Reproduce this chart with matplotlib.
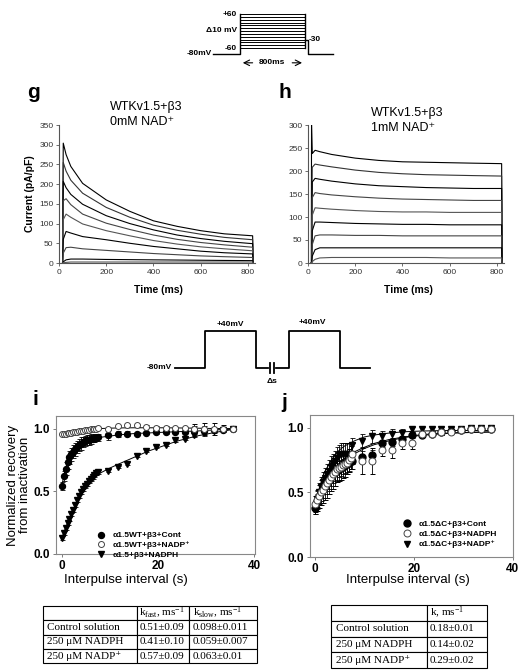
import matplotlib
matplotlib.use('Agg')
import matplotlib.pyplot as plt
from matplotlib.lines import Line2D

plt.rcParams['font.family'] = ['Liberation Sans', 'DejaVu Sans']
plt.rcParams['mathtext.fontset'] = 'custom'
plt.rcParams['mathtext.rm'] = 'Liberation Serif'
plt.rcParams['mathtext.it'] = 'Liberation Serif:italic'
plt.rcParams['mathtext.bf'] = 'Liberation Serif:bold'

# ---------------- data ----------------
# pulse protocol (top): holding, 13 test steps, tail
hold_mv = -80
step_mv = [-60, -50, -40, -30, -20, -10, 0, 10, 20, 30, 40, 50, 60]
tail_mv = -30
pulse_ms = 800

# recovery protocol (middle): two +40 mV pulses separated by interval
p1_ms = [0, 500]
p2_ms = [830, 1330]
pulse_mv = 40

# panel g: WTKv1.5+b3, 0 mM NAD+
g_time = [15, 18, 30, 50, 100, 200, 300, 400, 500, 600, 700, 820, 822]
g_traces = [
    [0, 304, 275, 245, 202, 160, 131, 107, 93, 82, 74, 69, 0],
    [0, 255, 233, 210, 177, 141, 116, 96, 83, 73, 65, 59, 0],
    [0, 207, 191, 174, 149, 120, 100, 84, 71, 62, 55, 49, 0],
    [0, 158, 163, 148, 124, 101, 85, 71, 60, 52, 46, 40, 0],
    [0, 110, 124, 116, 99, 82, 69, 57, 48, 41, 36, 31, 0],
    [0, 60, 80, 76, 67, 59, 50, 42, 36, 30, 26, 23, 0],
    [0, 25, 39, 40, 36, 32, 28, 24, 21, 18, 16, 14, 0],
    [0, 3, 8, 10, 10, 9, 8.5, 8, 7.5, 7, 6.5, 6, 0],
    [0, 0.5, 1.5, 2.5, 2.5, 2.5, 2.5, 2.5, 2.5, 2.5, 2.5, 2.5, 0],
]

# panel h: WTKv1.5+b3, 1 mM NAD+
h_time = [14, 15, 18, 30, 50, 100, 200, 300, 400, 500, 600, 700, 820, 822]
h_traces = [
    [0, 300, 238, 245, 242, 236, 228, 223, 220, 219, 218, 217, 216, 0],
    [0, 0, 208, 215, 213, 209, 202, 197, 194, 192, 191, 190, 189, 0],
    [0, 0, 176, 184, 182, 178, 172, 168, 166, 164, 163, 162, 162, 0],
    [0, 0, 142, 153, 151, 148, 144, 141, 139, 138, 137, 136, 136, 0],
    [0, 0, 104, 120, 119, 117, 114, 112, 111, 111, 110, 110, 110, 0],
    [0, 0, 70, 89, 89, 88, 86, 85, 84, 84, 83, 83, 83, 0],
    [0, 0, 40, 59, 61, 61, 60, 60, 59, 59, 59, 59, 59, 0],
    [0, 0, 15, 29, 33, 33, 33, 33, 33, 33, 33, 33, 33, 0],
    [0, 0, 3, 8, 11, 12, 12, 12, 12, 12, 11, 11, 11, 0],
]

# panels i / j: recovery from inactivation
interval_s = [0, 0.4, 0.8, 1.2, 1.6, 2.0, 2.4, 2.8, 3.2, 3.6, 4.0, 4.4, 4.8, 5.2,
              5.6, 6.0, 6.4, 6.8, 7.2, 7.6, 9.6, 11.6, 13.6, 15.6, 17.6, 19.6,
              21.6, 23.6, 25.6, 27.6, 29.6, 31.6, 33.6, 35.6]

i_cont = [0.54, 0.62, 0.68, 0.73, 0.77, 0.795, 0.815, 0.835, 0.853, 0.868, 0.88,
          0.89, 0.9, 0.905, 0.91, 0.915, 0.92, 0.924, 0.928, 0.93,
          0.95, 0.955, 0.96, 0.96, 0.966, 0.97, 0.97, 0.975, 0.975, 0.98, 0.98,
          0.985, 0.99, 0.995]
i_cont_err = [0.03, 0.04, 0.05, 0.05, 0.05, 0.05, 0.05, 0.05, 0.05, 0.05, 0.05,
              0.04, 0.04, 0.04, 0.04, 0.04, 0.03, 0.03, 0.03, 0.03,
              0.04, 0.025, 0.02, 0.015, 0.01, 0.01, 0.01, 0.01, 0.01, 0.04, 0.04,
              0.02, 0.01, 0.01]
i_nadpp = [0.955, 0.958, 0.96, 0.962, 0.965, 0.967, 0.97, 0.972, 0.975, 0.977, 0.98,
           0.982, 0.985, 0.987, 0.99, 0.993, 0.995, 0.998, 1.0, 1.005,
           0.997, 1.02, 1.03, 1.025, 1.015, 1.008, 1.008, 1.005, 1.005, 1.0, 0.995,
           0.995, 1.0, 1.0]
i_nadpp_err = [0.01, 0.01, 0.01, 0.01, 0.01, 0.01, 0.01, 0.01, 0.01, 0.01, 0.01,
               0.01, 0.01, 0.01, 0.01, 0.01, 0.01, 0.01, 0.01, 0.01,
               0.01, 0.01, 0.01, 0.01, 0.01, 0.01, 0.01, 0.01, 0.01, 0.04, 0.05,
               0.05, 0.03, 0.01]
i_nadph = [0.125, 0.17, 0.21, 0.245, 0.28, 0.315, 0.35, 0.39, 0.43, 0.465, 0.495,
           0.52, 0.54, 0.56, 0.58, 0.6, 0.615, 0.63, 0.645, 0.655,
           0.665, 0.695, 0.72, 0.785, 0.82, 0.855, 0.87, 0.905, 0.92, 0.95, 0.97,
           0.98, 0.99, 0.995]
i_nadph_err = [0.015, 0.015, 0.015, 0.015, 0.015, 0.015, 0.015, 0.015, 0.015, 0.015,
               0.015, 0.015, 0.015, 0.015, 0.015, 0.015, 0.015, 0.015, 0.015, 0.015,
               0.01, 0.01, 0.01, 0.01, 0.01, 0.01, 0.01, 0.01, 0.015, 0.02, 0.015,
               0.01, 0.01, 0.01]

j_cont = [0.38, 0.43, 0.47, 0.5, 0.53, 0.56, 0.58, 0.6, 0.62, 0.64, 0.66, 0.67,
          0.68, 0.69, 0.7, 0.71, 0.72, 0.73, 0.74, 0.745,
          0.775, 0.79, 0.88, 0.89, 0.915, 0.945, 0.948, 0.956, 0.968, 0.974, 0.987,
          0.99, 0.995, 0.995]
j_cont_err = [0.05, 0.06, 0.06, 0.07, 0.07, 0.07, 0.07, 0.07, 0.07, 0.07, 0.07,
              0.07, 0.06, 0.06, 0.06, 0.06, 0.06, 0.06, 0.06, 0.06,
              0.05, 0.04, 0.03, 0.03, 0.02, 0.02, 0.02, 0.02, 0.02, 0.01, 0.01,
              0.01, 0.01, 0.01]
j_nadph = [0.41, 0.44, 0.47, 0.5, 0.52, 0.55, 0.57, 0.6, 0.62, 0.64, 0.66, 0.68,
           0.69, 0.7, 0.71, 0.72, 0.73, 0.75, 0.77, 0.8,
           0.745, 0.745, 0.83, 0.83, 0.88, 0.885, 0.95, 0.955, 0.965, 0.97, 0.985,
           0.99, 0.995, 0.995]
j_nadph_err = [0.06, 0.08, 0.09, 0.1, 0.1, 0.11, 0.11, 0.11, 0.11, 0.11, 0.11,
               0.1, 0.1, 0.1, 0.1, 0.1, 0.09, 0.09, 0.09, 0.08,
               0.1, 0.1, 0.05, 0.06, 0.04, 0.05, 0.02, 0.02, 0.02, 0.01, 0.01,
               0.01, 0.01, 0.01]
j_nadpp = [0.385, 0.45, 0.5, 0.54, 0.58, 0.61, 0.64, 0.67, 0.7, 0.72, 0.74, 0.77,
           0.79, 0.8, 0.8, 0.8, 0.8, 0.8, 0.8, 0.87,
           0.9, 0.935, 0.935, 0.95, 0.96, 0.99, 0.99, 0.99, 0.99, 0.99, 0.99,
           1.0, 1.0, 1.0]
j_nadpp_err = [0.05, 0.06, 0.07, 0.08, 0.08, 0.08, 0.08, 0.08, 0.08, 0.08, 0.08,
               0.08, 0.08, 0.08, 0.08, 0.08, 0.08, 0.08, 0.08, 0.05,
               0.05, 0.05, 0.04, 0.04, 0.03, 0.02, 0.02, 0.02, 0.02, 0.02, 0.01,
               0.01, 0.01, 0.01]

# fitted curves
fit_s = [0, 0.5, 1, 1.5, 2, 3, 4, 5, 6, 8, 10, 12, 15, 18, 21, 24, 28, 32, 36]
i_cont_fit = [0.54, 0.64, 0.71, 0.76, 0.795, 0.85, 0.88, 0.9, 0.91, 0.93, 0.94,
              0.95, 0.96, 0.965, 0.97, 0.975, 0.98, 0.99, 0.995]
i_nadpp_fit = [0.96, 0.965, 0.97, 0.974, 0.978, 0.985, 0.99, 0.994, 0.997, 1.0,
               1.003, 1.005, 1.006, 1.006, 1.006, 1.005, 1.003, 1.0, 1.0]
i_nadph_fit = [0.125, 0.18, 0.23, 0.28, 0.32, 0.4, 0.47, 0.53, 0.58, 0.645, 0.685,
               0.72, 0.77, 0.82, 0.86, 0.9, 0.94, 0.97, 0.995]
j_cont_fit = [0.38, 0.45, 0.5, 0.54, 0.57, 0.63, 0.68, 0.72, 0.75, 0.8, 0.84,
              0.87, 0.9, 0.925, 0.94, 0.95, 0.96, 0.965, 0.97]
j_nadph_fit = [0.4, 0.46, 0.51, 0.55, 0.58, 0.64, 0.69, 0.73, 0.765, 0.815, 0.85,
               0.88, 0.91, 0.93, 0.945, 0.955, 0.962, 0.966, 0.968]
j_nadpp_fit = [0.38, 0.48, 0.55, 0.61, 0.66, 0.73, 0.79, 0.83, 0.86, 0.9, 0.93,
               0.945, 0.96, 0.97, 0.975, 0.978, 0.98, 0.98, 0.98]

i_labels = ['\u03b11.5WT+\u03b23+Cont', '\u03b11.5WT+\u03b23+NADP\u207a', '\u03b11.5+\u03b23+NADPH']
j_labels = ['\u03b11.5\u0394C+\u03b23+Cont', '\u03b11.5\u0394C+\u03b23+NADPH', '\u03b11.5\u0394C+\u03b23+NADP\u207a']

table_i_header = ['', r'k$_{\mathrm{fast}}$, ms$^{\mathrm{-1}}$', r'k$_{\mathrm{slow}}$, ms$^{\mathrm{-1}}$']
table_i_rows = [['Control solution', '0.51\u00b10.09', '0.098\u00b10.011'],
                ['250 \u03bcM NADPH', '0.41\u00b10.10', '0.059\u00b10.007'],
                ['250 \u03bcM NADP\u207a', '0.57\u00b10.09', '0.063\u00b10.01']]
table_j_header = ['', r'k, ms$^{\mathrm{-1}}$']
table_j_rows = [['Control solution', '0.18\u00b10.01'],
                ['250 \u03bcM NADPH', '0.14\u00b10.02'],
                ['250 \u03bcM NADP\u207a', '0.29\u00b10.02']]

# ---------------- figure ----------------
W, H = 523, 671
fig = plt.figure(figsize=(W / 100, H / 100), dpi=100)


def px_axes(x0, y0, x1, y1):
    # axes from pixel box (top-left origin)
    return fig.add_axes([x0 / W, 1 - y1 / H, (x1 - x0) / W, (y1 - y0) / H])


def px_text(x, y, s, **kw):
    fig.text(x / W, 1 - y / H, s, **kw)


# top protocol
ax = px_axes(200, 5, 345, 75)
ax.set_xlim(-494, 1296)
ax.set_ylim(-155, 92)
ax.axis('off')
ax.plot([-330, 0, 0], [hold_mv, hold_mv, max(step_mv)], color='k', lw=1)
for v in step_mv:
    ax.plot([0, pulse_ms], [v, v], color='k', lw=0.7)
ax.plot([pulse_ms, pulse_ms], [max(step_mv), min(step_mv)], color='k', lw=1)
ax.plot([pulse_ms, pulse_ms + 40, pulse_ms + 40, pulse_ms + 350],
        [tail_mv, tail_mv, hold_mv, hold_mv], color='k', lw=1)
kw = dict(fontsize=6, fontweight='bold', va='center')
ax.text(-40, 60, '+60', ha='right', **kw)
ax.text(-40, 2, '\u039410 mV', ha='right', **kw)
ax.text(-40, -60, '-60', ha='right', **kw)
ax.text(-345, hold_mv, '-80mV', ha='right', **kw)
ax.text(pulse_ms + 50, tail_mv, '-30', ha='left', **kw)
ax.annotate('', xy=(0, -112), xytext=(190, -112),
            arrowprops=dict(arrowstyle='->', lw=0.8, color='k'))
ax.annotate('', xy=(pulse_ms, -112), xytext=(pulse_ms - 190, -112),
            arrowprops=dict(arrowstyle='->', lw=0.8, color='k'))
ax.text(pulse_ms / 2, -112, '800ms', ha='center', **kw)

# panel g
ax_g = px_axes(59, 125, 255, 263)
cols = ['k', '#333333', 'k', '#444444', '#555555', 'k', '#444444', 'k', '#555555']
for tr, c in zip(g_traces, cols):
    ax_g.plot(g_time, tr, color=c, lw=0.8)
ax_g.set_xlim(0, 830)
ax_g.set_ylim(0, 350)
ax_g.set_yticks(range(0, 351, 50))
ax_g.set_xticks(range(0, 801, 200))

# panel h
ax_h = px_axes(308, 125, 504, 263)
for tr, c in zip(h_traces, cols):
    ax_h.plot(h_time, tr, color=c, lw=0.8)
ax_h.set_xlim(0, 830)
ax_h.set_ylim(0, 300)
ax_h.set_yticks(range(0, 301, 50))
ax_h.set_xticks(range(0, 801, 200))

for a in (ax_g, ax_h):
    for s in ('top', 'right'):
        a.spines[s].set_visible(False)
    for s in ('left', 'bottom'):
        a.spines[s].set_color('#555555')
        a.spines[s].set_linewidth(0.8)
    a.tick_params(labelsize=6, length=2, width=0.6, colors='#555555', labelcolor='#333333', pad=2)

px_text(30, 194, 'Current (pA/pF)', rotation=90, ha='center', va='center', fontsize=7.5, fontweight='bold')
px_text(158, 290, 'Time (ms)', ha='center', va='center', fontsize=7.5, fontweight='bold')
px_text(408, 290, 'Time (ms)', ha='center', va='center', fontsize=7.5, fontweight='bold')
px_text(110, 107, 'WTKv1.5+\u03b23', ha='left', va='center', fontsize=9)
px_text(110, 122, '0mM NAD\u207a', ha='left', va='center', fontsize=9)
px_text(371, 113, 'WTKv1.5+\u03b23', ha='left', va='center', fontsize=9)
px_text(371, 128, '1mM NAD\u207a', ha='left', va='center', fontsize=9)
px_text(27, 98, 'g', ha='left', va='baseline', fontsize=15, fontweight='bold')
px_text(279, 98, 'h', ha='left', va='baseline', fontsize=15, fontweight='bold')

# middle protocol
ax = px_axes(140, 315, 380, 390)
ax.set_xlim(-641, 1726)
ax.set_ylim(-153, 92)
ax.axis('off')
ax.plot([-300, p1_ms[0], p1_ms[0], p1_ms[1], p1_ms[1], 620],
        [hold_mv, hold_mv, pulse_mv, pulse_mv, hold_mv, hold_mv], color='k', lw=1.3)
ax.plot([640, 640], [hold_mv - 16, hold_mv + 16], color='k', lw=1.3)
ax.plot([680, 680], [hold_mv - 16, hold_mv + 16], color='k', lw=1.3)
ax.plot([700, p2_ms[0], p2_ms[0], p2_ms[1], p2_ms[1], 1630],
        [hold_mv, hold_mv, pulse_mv, pulse_mv, hold_mv, hold_mv], color='k', lw=1.3)
kw = dict(fontsize=6, fontweight='bold', va='center')
ax.text(sum(p1_ms) / 2, 60, '+40mV', ha='center', **kw)
ax.text(sum(p2_ms) / 2 - 20, 66, '+40mV', ha='center', **kw)
ax.text(-330, hold_mv, '-80mV', ha='right', **kw)
ax.text(660, -125, '\u0394s', ha='center', **kw)

# panels i and j
mk = dict(capsize=1.8, elinewidth=0.6, capthick=0.6, ecolor='k', linestyle='none')


def recovery(a, cont, cont_e, s2, s2_e, s3, s3_e, f1, f2, f3, ms):
    a.plot(fit_s, f1, color='k', lw=0.7)
    a.plot(fit_s, f2, color='k', lw=0.7)
    a.plot(fit_s, f3, color='k', lw=0.7)
    a.errorbar(interval_s, s3, yerr=s3_e, fmt='v', ms=ms, mfc='k', mec='k', **mk)
    a.errorbar(interval_s, cont, yerr=cont_e, fmt='o', ms=ms, mfc='k', mec='k', **mk)
    a.errorbar(interval_s, s2, yerr=s2_e, fmt='o', ms=ms, mfc='white', mec='#444444',
               mew=0.7, **mk)
    for s in a.spines.values():
        s.set_color('#888888')
        s.set_linewidth(0.8)
    a.set_yticks([0, 0.5, 1.0])
    a.set_yticklabels(['0.0', '0.5', '1.0'])
    a.set_xticks([0, 20, 40])
    a.tick_params(labelsize=8.5, length=2.5, width=0.6, colors='#666666', labelcolor='k', pad=2)
    for lab in a.get_xticklabels() + a.get_yticklabels():
        lab.set_fontweight('bold')


ax_i = px_axes(56, 416, 255, 554)
recovery(ax_i, i_cont, i_cont_err, i_nadpp, i_nadpp_err, i_nadph, i_nadph_err,
         i_cont_fit, i_nadpp_fit, i_nadph_fit, 4.3)
ax_i.set_xlim(-1.2, 40.2)
ax_i.set_ylim(0, 1.1)

ax_j = px_axes(310, 415, 513, 557)
recovery(ax_j, j_cont, j_cont_err, j_nadph, j_nadph_err, j_nadpp, j_nadpp_err,
         j_cont_fit, j_nadph_fit, j_nadpp_fit, 5)
ax_j.set_xlim(-1.0, 40.1)
ax_j.set_ylim(0, 1.1)


def handles(ms):
    return [Line2D([], [], ls='none', marker='o', ms=ms, mfc='k', mec='k'),
            Line2D([], [], ls='none', marker='o', ms=ms, mfc='white', mec='#444444', mew=0.7),
            Line2D([], [], ls='none', marker='v', ms=ms, mfc='k', mec='k')]


ax_i.legend(handles(4.3), i_labels, loc='lower left', bbox_to_anchor=(0.205, -0.035),
            frameon=False, prop=dict(size=6, weight='bold'), handlelength=1.0,
            handletextpad=0.9, labelspacing=0.22, borderpad=0, borderaxespad=0)
ax_j.legend(handles(5), j_labels, loc='lower left', bbox_to_anchor=(0.455, 0.06),
            frameon=False, prop=dict(size=6, weight='bold'), handlelength=1.0,
            handletextpad=0.9, labelspacing=0.3, borderpad=0, borderaxespad=0)

px_text(19, 485, 'Normalized recovery\nfrom inactivation', rotation=90, ha='center',
        va='center', fontsize=9.5, linespacing=1.0, multialignment='center')
px_text(126, 580, 'Interpulse interval (s)', ha='center', va='center', fontsize=9.5)
px_text(408, 580, 'Interpulse interval (s)', ha='center', va='center', fontsize=9.5)
px_text(32, 405, 'i', ha='left', va='baseline', fontsize=15, fontweight='bold')
px_text(281, 408, 'j', ha='left', va='baseline', fontsize=15, fontweight='bold')


# tables
def draw_table(box, header, rows, widths):
    a = px_axes(*box)
    a.axis('off')
    tot = sum(widths)
    t = a.table(cellText=[header] + rows, colWidths=[w / tot for w in widths],
                cellLoc='left', bbox=[0, 0, 1, 1])
    t.auto_set_font_size(False)
    for (r, c), cell in t.get_celld().items():
        cell.PAD = 0.05
        cell.set_linewidth(0.8)
        cell.get_text().set_fontsize(8)
        cell.get_text().set_fontfamily(['Liberation Serif', 'DejaVu Serif'])


draw_table((42.7, 605.7, 257.3, 663.3), table_i_header, table_i_rows, [94, 52.6, 68])
draw_table((330.7, 605, 487.3, 668.3), table_j_header, table_j_rows, [96, 60.6])

fig.savefig('out.png', dpi=100)
